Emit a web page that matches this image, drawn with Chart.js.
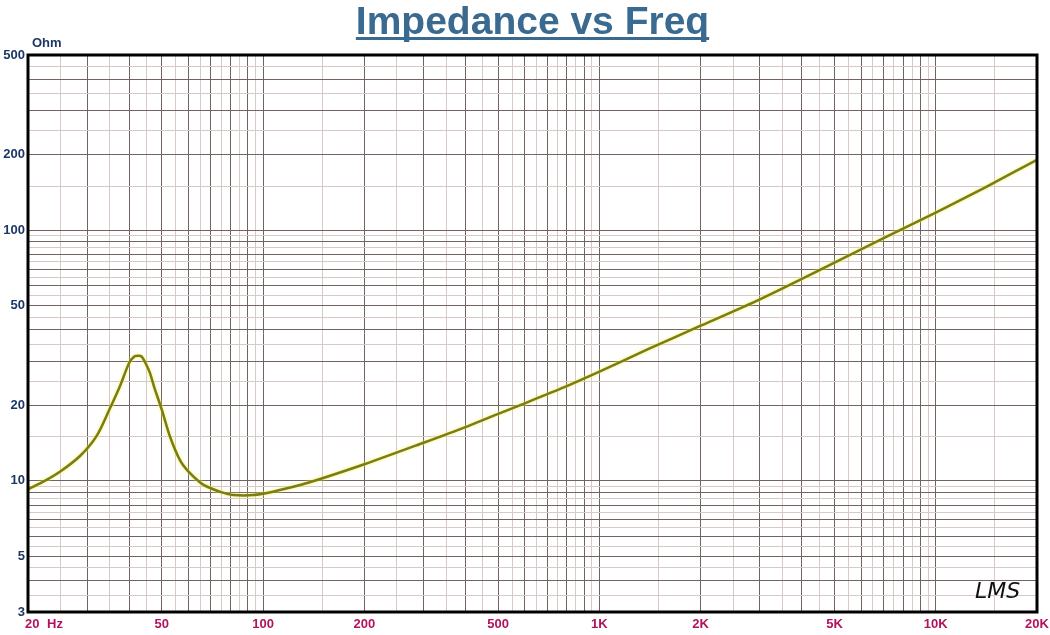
<!DOCTYPE html>
<html>
<head>
<meta charset="utf-8">
<script src="https://cdn.jsdelivr.net/npm/chart.js@4/dist/chart.umd.min.js"></script>
<style>
  html, body { margin: 0; padding: 0; background: #fff; }
  #wrap { width: 1050px; height: 635px; }
</style>
</head>
<body>
<div id="wrap"><canvas id="imp"></canvas></div>
<script>
"use strict";

// impedance curve (Hz, Ohm)
const FREQ = [20, 22.5, 25, 28.6, 32, 35, 37.5, 40, 41.5, 42.5, 43.5, 45, 46.1, 47.4, 50, 52.9, 56.6, 60, 65, 68, 75, 81.6, 93.6, 107, 128.8, 147, 200, 300, 400, 500, 600, 700, 800, 1000, 1400, 2000, 3000, 5000, 7000, 10000, 14000, 20000];
const OHM  = [9.26, 10.02, 10.92, 12.6, 15.13, 19.4, 23.8, 29.6, 31.4, 31.6, 31.4, 29.0, 26.9, 23.8, 19.2, 15.0, 12.1, 10.89, 9.86, 9.5, 9.02, 8.79, 8.79, 9.06, 9.63, 10.15, 11.65, 14.2, 16.4, 18.5, 20.4, 22.2, 23.9, 27.3, 33.6, 41.6, 53, 74.2, 93, 117.5, 148, 191];

const X_LABELS = { 50: "50", 100: "100", 200: "200", 500: "500", 1000: "1K", 2000: "2K", 5000: "5K", 10000: "10K", 20000: "20K" };
const Y_LABELS = { 3: "3", 5: "5", 10: "10", 20: "20", 50: "50", 100: "100", 200: "200", 500: "500" };

const DARK_GRID = "#726262";
const LIGHT_GRID = "#d8c8c6";
const FONT = "'Liberation Sans', Arial, sans-serif";

// grid every half unit of each decade, dark on whole units
function gridTicks(min, max) {
    let out = [];
    for (let d = Math.pow(10, Math.floor(Math.log10(min))); d < max; d *= 10) {
        for (let k = 2; k <= 20; k++) {
            let v = Math.round(d * k / 2 * 1000) / 1000;
            if (v >= min && v <= max && out.indexOf(v) < 0) out.push(v);
        }
    }
    return out;
}

function gridColor(v) {
    let d = Math.pow(10, Math.floor(Math.log10(v) + 1e-9));
    let r = v / d;
    return Math.abs(r - Math.round(r)) < 1e-6 ? DARK_GRID : LIGHT_GRID;
}

const points = FREQ.map((f, i) => ({ x: f, y: OHM[i] }));

const decor = {
    id: "decor",
    beforeDatasetsDraw(chart) {
        chart.ctx.save();
        chart.ctx.shadowColor = "rgba(240,240,80,0.95)";
        chart.ctx.shadowBlur = 3;
    },
    afterDatasetsDraw(chart) {
        chart.ctx.restore();
    },
    afterDraw(chart) {
        const c = chart.ctx;
        const a = chart.chartArea;
        c.save();
        // frame
        c.strokeStyle = "#000";
        c.lineWidth = 3;
        c.strokeRect(a.left, a.top, a.right - a.left, a.bottom - a.top);

        // title, underlined
        c.fillStyle = "#3a6a8f";
        c.font = "bold 39px " + FONT;
        c.textAlign = "center";
        c.textBaseline = "alphabetic";
        const mid = (a.left + a.right) / 2;
        c.fillText("Impedance vs Freq", mid, 34);
        const w = c.measureText("Impedance vs Freq").width;
        c.fillRect(mid - w / 2, 37, w, 3);

        // unit labels
        c.font = "bold 13px " + FONT;
        c.fillStyle = "#1c3764";
        c.textAlign = "left";
        c.textBaseline = "middle";
        c.fillText("Ohm", 32, 43);

        c.fillStyle = "#b3125c";
        c.fillText("20", 25, 624);
        c.fillText("Hz", 47, 624);

        // signature
        c.font = "italic 22px 'DejaVu Sans', sans-serif";
        c.fillStyle = "#111";
        c.fillText("LMS", 975, 592);
        c.restore();
    }
};

new Chart(document.getElementById("imp"), {
    type: "line",
    data: {
        datasets: [{
            data: points,
            borderColor: "#7c7c14",
            borderWidth: 2.5,
            pointRadius: 0,
            tension: 0.3,
            fill: false
        }]
    },
    options: {
        responsive: true,
        maintainAspectRatio: false,
        animation: false,
        events: [],
        layout: { padding: { top: 55, right: 13, left: 0, bottom: 0 } },
        plugins: { legend: { display: false }, tooltip: { enabled: false } },
        scales: {
            x: {
                type: "logarithmic",
                min: 20,
                max: 20000,
                afterBuildTicks: s => { s.ticks = gridTicks(20, 20000).map(v => ({ value: v })); },
                afterFit: s => { s.height = 23; s.paddingLeft = 0; s.paddingRight = 0; },
                border: { display: false },
                grid: {
                    drawTicks: false,
                    lineWidth: 1,
                    color: ctx => ctx.tick ? gridColor(ctx.tick.value) : LIGHT_GRID
                },
                ticks: {
                    autoSkip: false,
                    maxRotation: 0,
                    minRotation: 0,
                    padding: 5,
                    color: "#b3125c",
                    font: { family: FONT, size: 13, weight: "bold" },
                    callback: v => X_LABELS[v] || ""
                }
            },
            y: {
                type: "logarithmic",
                min: 3,
                max: 500,
                afterBuildTicks: s => { s.ticks = gridTicks(3, 500).map(v => ({ value: v })); },
                afterFit: s => { s.width = 28; s.paddingTop = 0; s.paddingBottom = 0; },
                border: { display: false },
                grid: {
                    drawTicks: false,
                    lineWidth: 1,
                    color: ctx => ctx.tick ? gridColor(ctx.tick.value) : LIGHT_GRID
                },
                ticks: {
                    autoSkip: false,
                    padding: 3,
                    color: "#1c3764",
                    font: { family: FONT, size: 13, weight: "bold" },
                    callback: v => Y_LABELS[v] || ""
                }
            }
        }
    },
    plugins: [decor]
});
</script>
</body>
</html>
